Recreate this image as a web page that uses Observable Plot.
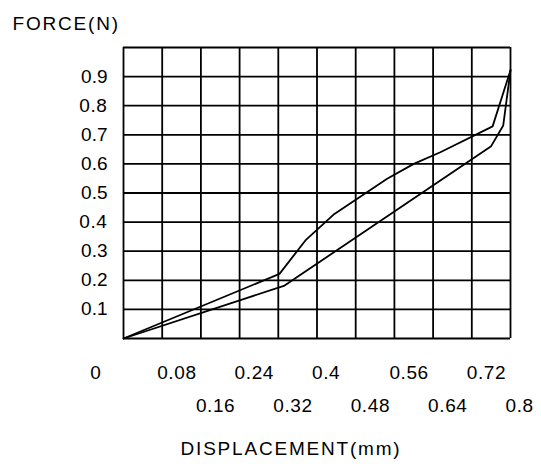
<!DOCTYPE html>
<html>
<head>
<meta charset="utf-8">
<script src="https://cdn.jsdelivr.net/npm/d3@7"></script>
<script src="https://cdn.jsdelivr.net/npm/@observablehq/plot@0.6"></script>
<style>
  html, body { margin: 0; padding: 0; background: #fff; }
</style>
</head>
<body>
<div id="chart"></div>
<script>
// Loading curve (upper)
const loadX = [0, 0.3225, 0.376, 0.436, 0.545, 0.600, 0.655, 0.763, 0.8];
const loadY = [0, 0.222, 0.337, 0.428, 0.549, 0.600, 0.640, 0.729, 0.922];
// Unloading curve (lower)
const unloadX = [0, 0.333, 0.760, 0.785, 0.8];
const unloadY = [0, 0.182, 0.661, 0.732, 0.922];

const xGrid = [0, 0.08, 0.16, 0.24, 0.32, 0.4, 0.48, 0.56, 0.64, 0.72, 0.8];
const yGrid = [0, 0.1, 0.2, 0.3, 0.4, 0.5, 0.6, 0.7, 0.8, 0.9, 1.0];
const xTicksRow1 = [0.08, 0.24, 0.4, 0.56, 0.72];
const xLabelsRow1 = ["0.08", "0.24", "0.4", "0.56", "0.72"];
const xTicksRow2 = [0.16, 0.32, 0.48, 0.64, 0.8];
const xLabelsRow2 = ["0.16", "0.32", "0.48", "0.64", "0.8"];
const yTicks = [0.1, 0.2, 0.3, 0.4, 0.5, 0.6, 0.7, 0.8, 0.9];
const yLabels = ["0.1", "0.2", "0.3", "0.4", "0.5", "0.6", "0.7", "0.8", "0.9"];
const yTitle = "FORCE(N)";
const xTitle = "DISPLACEMENT(mm)";

const load = loadX.map((x, i) => ({x, y: loadY[i]}));
const unload = unloadX.map((x, i) => ({x, y: unloadY[i]}));
const row1 = xTicksRow1.map((x, i) => ({x, label: xLabelsRow1[i]}));
const row2 = xTicksRow2.map((x, i) => ({x, label: xLabelsRow2[i]}));
const yl = yTicks.map((y, i) => ({y, label: yLabels[i]}));

const font = "'Liberation Sans', Arial, sans-serif";

const chart = Plot.plot({
  width: 541,
  height: 470,
  marginLeft: 123,
  marginRight: 31,
  marginTop: 47,
  marginBottom: 132,
  style: {fontFamily: font, background: "#fff", color: "#000"},
  x: {domain: [0, 0.8], axis: null},
  y: {domain: [0, 1], axis: null},
  marks: [
    Plot.ruleX(xGrid, {x: d => d, y1: 0, y2: 1, stroke: "#000", strokeWidth: 1.8, strokeOpacity: 1}),
    Plot.ruleY(yGrid, {y: d => d, x1: 0, x2: 0.8, stroke: "#000", strokeWidth: 1.8, strokeOpacity: 1}),
    Plot.line(load, {x: "x", y: "y", stroke: "#000", strokeWidth: 1.8}),
    Plot.line(unload, {x: "x", y: "y", stroke: "#000", strokeWidth: 1.8}),
    Plot.text(yl, {x: 0, y: "y", text: "label", textAnchor: "end", dx: -16, fontSize: 19, fill: "#000"}),
    Plot.text(row1, {x: "x", y: 0, text: "label", textAnchor: "start", lineAnchor: "bottom", dx: -5, dy: 40, fontSize: 19, fill: "#000"}),
    Plot.text(row2, {x: "x", y: 0, text: "label", textAnchor: "start", lineAnchor: "bottom", dx: -5, dy: 73, fontSize: 19, fill: "#000"}),
    Plot.text(["0"], {x: 0, y: 0, text: d => d, textAnchor: "middle", lineAnchor: "bottom", dx: -28, dy: 40, fontSize: 19, fill: "#000"}),
    Plot.text([yTitle], {frameAnchor: "top-left", text: d => d, textAnchor: "start", lineAnchor: "bottom", dx: -111, dy: -18, fontSize: 19, fill: "#000"}),
    Plot.text([xTitle], {frameAnchor: "bottom", text: d => d, textAnchor: "middle", lineAnchor: "bottom", dx: -26, dy: 116, fontSize: 19, fill: "#000"})
  ]
});
const titles = [xTitle, yTitle];
const xl = [...xLabelsRow1, ...xLabelsRow2];
d3.select(chart).selectAll("text").each(function () {
  const t = this.textContent;
  if (titles.includes(t)) this.setAttribute("letter-spacing", "1.8");
  else if (xl.includes(t)) this.setAttribute("letter-spacing", "0.6");
});
document.getElementById("chart").appendChild(chart);
</script>
</body>
</html>
